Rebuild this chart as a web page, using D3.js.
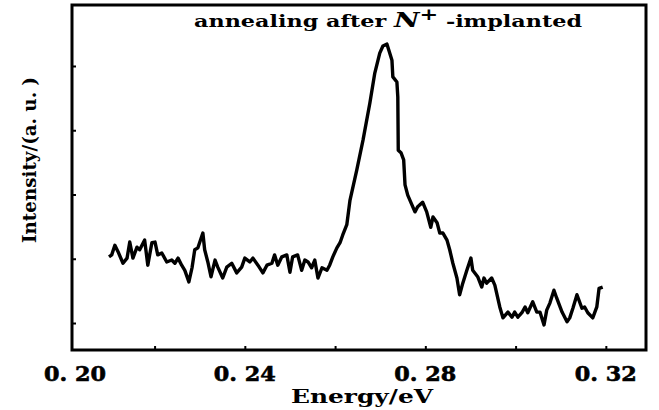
<!DOCTYPE html>
<html lang="en">
<head>
<meta charset="UTF-8">
<title>annealing after N+ -implanted</title>
<script src="https://cdn.jsdelivr.net/npm/d3@7"></script>
<style>
    body { margin: 0; background: #fff; }
    .chart text { font-family: "DejaVu Serif", serif; font-weight: bold; fill: #000; }
    .axis path { display: none; }
    .axis line { stroke: #000; stroke-width: 2; }
    .line { fill: none; stroke: #000; stroke-width: 3.4; stroke-linejoin: round; }
</style>
</head>
<body>
<div class="chart"></div>
<script>
// energy (eV) and intensity (a.u.)
var energy = [
    0.2099, 0.2105, 0.2112, 0.2119, 0.2130, 0.2139, 0.2145, 0.2152, 0.2161, 0.2167,
    0.2178, 0.2185, 0.2194, 0.2201, 0.2207, 0.2216, 0.2227, 0.2238, 0.2245, 0.2252,
    0.2260, 0.2267, 0.2276, 0.2283, 0.2289, 0.2296, 0.2307, 0.2311, 0.2318, 0.2325,
    0.2334, 0.2340, 0.2351, 0.2360, 0.2371, 0.2382, 0.2393, 0.2400, 0.2411, 0.2418,
    0.2429, 0.2440, 0.2449, 0.2460, 0.2466, 0.2473, 0.2482, 0.2493, 0.2500, 0.2506,
    0.2517, 0.2526, 0.2533, 0.2540, 0.2548, 0.2555, 0.2562, 0.2571, 0.2582, 0.2588,
    0.2595, 0.2604, 0.2611, 0.2617, 0.2626, 0.2633, 0.2648, 0.2662, 0.2677, 0.2688,
    0.2699, 0.2706, 0.2715, 0.2719, 0.2726, 0.2728, 0.2737, 0.2739, 0.2740, 0.2746,
    0.2752, 0.2755, 0.2761, 0.2777, 0.2783, 0.2794, 0.2803, 0.2812, 0.2817, 0.2826,
    0.2832, 0.2839, 0.2848, 0.2854, 0.2861, 0.2870, 0.2876, 0.2883, 0.2892, 0.2901,
    0.2905, 0.2916, 0.2925, 0.2930, 0.2936, 0.2947, 0.2954, 0.2965, 0.2972, 0.2983,
    0.2992, 0.2998, 0.3005, 0.3014, 0.3021, 0.3027, 0.3038, 0.3047, 0.3054, 0.3063,
    0.3069, 0.3076, 0.3085, 0.3091, 0.3103, 0.3114, 0.3120, 0.3127, 0.3136, 0.3147,
    0.3153, 0.3160, 0.3171, 0.3180, 0.3185, 0.3193
];
var intensity = [
    2.03, 2.06, 2.21, 2.11, 1.93, 2.01, 2.26, 2.01, 2.18, 2.14,
    2.29, 1.90, 2.25, 2.26, 2.06, 2.09, 1.95, 1.98, 1.93, 2.01,
    1.90, 1.82, 1.64, 1.86, 2.14, 2.17, 2.40, 2.14, 1.95, 1.72,
    1.98, 1.87, 1.70, 1.87, 1.93, 1.78, 1.87, 2.01, 1.95, 2.01,
    1.90, 1.78, 1.90, 1.93, 2.06, 1.90, 2.03, 2.06, 1.79, 2.03,
    2.06, 1.82, 1.98, 1.95, 1.86, 1.98, 1.70, 1.86, 1.82, 1.90,
    2.03, 2.17, 2.25, 2.37, 2.53, 2.91, 3.38, 3.85, 4.42, 4.89,
    5.20, 5.31, 5.34, 5.25, 5.09, 4.83, 4.75, 4.52, 3.69, 3.65,
    3.54, 3.15, 2.99, 2.73, 2.81, 2.88, 2.73, 2.49, 2.65, 2.56,
    2.40, 2.40, 2.29, 2.14, 1.93, 1.70, 1.44, 1.62, 1.82, 2.01,
    1.82, 1.72, 1.56, 1.70, 1.62, 1.70, 1.59, 1.25, 1.08, 1.17,
    1.09, 1.17, 1.09, 1.16, 1.25, 1.16, 1.33, 1.17, 1.17, 0.97,
    1.20, 1.31, 1.51, 1.39, 1.17, 1.02, 1.08, 1.23, 1.44, 1.23,
    1.25, 1.16, 1.08, 1.25, 1.54, 1.56
];
var xTicks = [0.22, 0.24, 0.26, 0.28, 0.30, 0.32];
var xLabels = [0.20, 0.24, 0.28, 0.32];
var yTicks = [1, 2, 3, 4, 5];

var width = 659, height = 410;
var x0 = 72, x1 = 646, y0 = 350, y1 = 5;

var svg = d3.select('.chart').append('svg')
    .attr('width', width)
    .attr('height', height);

var x = d3.scaleLinear().domain([0.2017, 0.3289]).range([x0, x1]);
var y = d3.scaleLinear().domain([0.58, 5.949]).range([y0, y1]);

// ticks (inward, no labels from the axis itself)
svg.append('g')
    .attr('class', 'axis')
    .attr('transform', 'translate(0,' + y0 + ')')
    .call(d3.axisBottom(x).tickValues(xTicks).tickSize(-4).tickFormat(''));

svg.append('g')
    .attr('class', 'axis')
    .attr('transform', 'translate(' + x0 + ',0)')
    .call(d3.axisLeft(y).tickValues(yTicks).tickSize(-4).tickFormat(''));

// tick labels, "0. 20" style
svg.selectAll('text.xlab').data(xLabels).enter().append('text')
    .attr('class', 'xlab')
    .attr('x', function(d) { return Math.max(x(d), x0 + 3); })
    .attr('y', 381)
    .attr('text-anchor', 'middle')
    .attr('font-size', 20)
    .attr('font-weight', 'normal')
    .attr('stroke', '#000')
    .attr('stroke-width', 0.6)
    .attr('textLength', 62)
    .attr('lengthAdjust', 'spacingAndGlyphs')
    .text(function(d) { return d3.format('.2f')(d).replace('.', '. '); });

var line = d3.line()
    .x(function(d, i) { return x(energy[i]); })
    .y(function(d) { return y(d); });

svg.append('path')
    .datum(intensity)
    .attr('class', 'line')
    .attr('d', line);

// frame
svg.append('rect')
    .attr('x', x0).attr('y', y1)
    .attr('width', x1 - x0).attr('height', y0 - y1)
    .attr('fill', 'none')
    .attr('stroke', '#000')
    .attr('stroke-width', 3);

// axis titles
svg.append('text')
    .attr('x', 362).attr('y', 403)
    .attr('text-anchor', 'middle')
    .attr('font-size', 18)
    .attr('textLength', 142)
    .attr('lengthAdjust', 'spacingAndGlyphs')
    .text('Energy/eV');

svg.append('text')
    .attr('transform', 'translate(36,160) rotate(-90)')
    .attr('text-anchor', 'middle')
    .attr('font-size', 18)
    .attr('textLength', 166)
    .attr('lengthAdjust', 'spacingAndGlyphs')
    .text('Intensity/(a. u. )');

// annotation
var note = svg.append('text')
    .attr('x', 194).attr('y', 27)
    .attr('font-size', 16)
    .attr('textLength', 388)
    .attr('lengthAdjust', 'spacingAndGlyphs');
note.append('tspan').text('annealing after ');
note.append('tspan').attr('font-style', 'italic').attr('font-size', 20).text('N');
note.append('tspan').attr('dy', -7).attr('font-size', 16).text('+');
note.append('tspan').attr('dy', 7).text(' -implanted');
</script>
</body>
</html>
